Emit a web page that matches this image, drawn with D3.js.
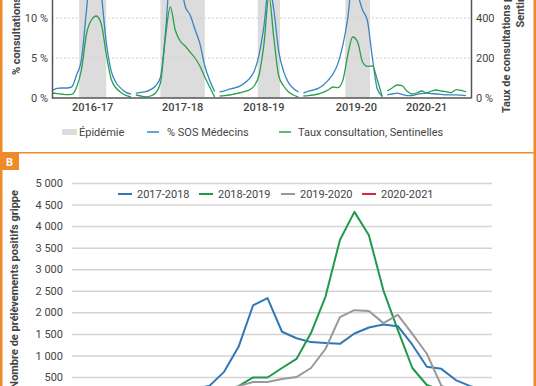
<!DOCTYPE html>
<html>
<head>
<meta charset="utf-8">
<script src="https://cdn.jsdelivr.net/npm/d3@7/dist/d3.min.js"></script>
<style>
body { margin: 0; background: #fff; }
svg { display: block; font-family: Roboto, "DejaVu Sans", sans-serif; }
</style>
</head>
<body>
<svg width="536" height="386"></svg>
<script>
// ---- panel A : SOS Médecins / Sentinelles, one segment per season
const seasons = ["2016-17", "2017-18", "2018-19", "2019-20", "2020-21"];
const seasonLabelWeek = [16.5, 19, 18, 21.5, 16];
const weeksA = [0, 2, 4, 6, 8, 10, 12, 14, 16, 18, 20, 22, 24, 26, 28, 30, 32];
// % of SOS Médecins consultations (left axis)
const sosMedecins = [
    [0.9, 1.2, 1.25, 1.25, 1.4, 2.9, 4.9, 11, 17, 17.5, 13, 7, 3.4, 1.9, 1.2, 0.7, 0.5],
    [0.6, 0.7, 0.8, 1.05, 1.5, 2.6, 8, 16, 18, 15, 11.5, 10.4, 8.6, 6.8, 4, 2.2, 0.8],
    [0.75, 0.9, 1.1, 1.25, 1.45, 1.85, 2.4, 3.3, 5.4, 9, 14, 11, 5.8, 3.3, 1.9, 1.2, 0.75],
    [0.6, 0.85, 1.0, 1.2, 1.6, 2.2, 3.0, 4.3, 6.6, 10, 15, 13, 11, 9.6, 5, 1.1, 0.25],
    [0.4, 0.5, 0.6, 0.45, 0.3, 0.3, 0.45, 0.55, 0.6, 0.55, 0.5, 0.45, 0.4, 0.4, 0.4, 0.35, 0.3]
];
// Sentinelles consultation rate (right axis)
const sentinelles = [
    [25, 22, 20, 17, 18, 55, 145, 320, 390, 410, 370, 220, 95, 50, 28, 13, 5],
    [15, 10, 6, 10, 25, 75, 300, 455, 340, 285, 260, 230, 200, 160, 105, 55, 5],
    [10, 12, 15, 20, 25, 32, 40, 60, 115, 270, 510, 300, 110, 60, 30, 15, 5],
    [10, 12, 15, 20, 28, 40, 55, 52, 88, 215, 305, 280, 180, 158, 160, 90, 5],
    [35, 50, 65, 62, 35, 20, 25, 35, 25, 35, 40, 35, 32, 27, 42, 38, 30]
];
// epidemic period, in season weeks (none in 2020-21)
const epiStart = [11, 10, 15.5, 17];
const epiEnd = [22, 28, 24.5, 27];
const leftTicks = [0, 5, 10];
const rightTicks = [0, 200, 400];

// ---- panel B : positive influenza samples per week
const weeksB = ["S40", "S41", "S42", "S43", "S44", "S45", "S46", "S47", "S48", "S49", "S50", "S51", "S52",
    "S01", "S02", "S03", "S04", "S05", "S06", "S07", "S08", "S09", "S10", "S11", "S12", "S13", "S14", "S15", "S16"];
const seasonsB = ["2017-2018", "2018-2019", "2019-2020", "2020-2021"];
const pos1718 = [20, 25, 30, 40, 55, 80, 110, 160, 220, 300, 620, 1200, 2160, 2330, 1550, 1400, 1310, 1290, 1270, 1510, 1650, 1720, 1680, 1250, 740, 690, 430, 290, 200];
const pos1819 = [10, 10, 15, 15, 20, 25, 30, 40, 60, 90, 150, 290, 490, 490, 710, 920, 1520, 2360, 3680, 4330, 3790, 2510, 1590, 710, 315, 200, 120, 80, 50];
const pos1920 = [5, 5, 10, 10, 15, 20, 30, 50, 80, 130, 200, 290, 385, 385, 455, 500, 710, 1150, 1890, 2050, 2030, 1750, 1940, 1500, 1040, 300, 150, 80, 50];
const pos2021 = [0, 0, 0, 1, 0, 2, 1, 0, 1, 3, 2, 1, 2, 0, 1, 1, 2, 1, 0, 1, 2, 1, 0, 1, 0, 1, 0, 0, 1];
const ticksB = [500, 1000, 1500, 2000, 2500, 3000, 3500, 4000, 4500, 5000];

const orange = "#ef8a2a";
const textColor = "#444";
const blueA = "#3a83c4", greenA = "#2a9f4d";
const colorsB = ["#2e78b8", "#1f9a4c", "#999999", "#d7263d"];

const svg = d3.select("svg");
svg.append("rect").attr("width", 536).attr("height", 386).attr("fill", "#fff");

function panelA() {
    const g = svg.append("g");
    const perSeason = 34;
    const x = d3.scaleLinear().domain([0, perSeason * seasons.length]).range([52, 471]);
    const xs = (s, w) => x(s * perSeason + w);
    const yL = d3.scaleLinear().domain([0, 20]).range([98, -62]);
    const yR = d3.scaleLinear().domain([0, 800]).range([98, -62]);

    g.selectAll("rect.epi").data(epiStart).enter().append("rect").attr("class", "epi")
        .attr("x", (d, i) => xs(i, d)).attr("width", (d, i) => xs(i, epiEnd[i]) - xs(i, d))
        .attr("y", yL(20)).attr("height", yL(0) - yL(20)).attr("fill", "#dcdcdc");

    g.selectAll("line.grid").data([5, 10]).enter().append("line").attr("class", "grid")
        .attr("x1", 52).attr("x2", 471).attr("y1", d => yL(d)).attr("y2", d => yL(d))
        .attr("stroke", "#cfcfcf").attr("stroke-dasharray", "2,2");

    const lineL = d3.line().x((d, i) => d[0]).y(d => yL(d[1])).curve(d3.curveMonotoneX);
    const lineR = d3.line().x((d, i) => d[0]).y(d => yR(d[1])).curve(d3.curveMonotoneX);
    seasons.forEach((s, si) => {
        g.append("path").datum(weeksA.map((w, i) => [xs(si, w), sosMedecins[si][i]]))
            .attr("d", lineL).attr("fill", "none").attr("stroke", blueA).attr("stroke-width", 1.3);
        g.append("path").datum(weeksA.map((w, i) => [xs(si, w), sentinelles[si][i]]))
            .attr("d", lineR).attr("fill", "none").attr("stroke", greenA).attr("stroke-width", 1.3);
    });

    // axes
    const gl = g.append("g").attr("transform", "translate(52,0)")
        .call(d3.axisLeft(yL).tickValues(leftTicks).tickSize(0).tickPadding(4).tickFormat(d => d + " %"));
    const gr = g.append("g").attr("transform", "translate(471,0)")
        .call(d3.axisRight(yR).tickValues(rightTicks).tickSize(0).tickPadding(5).tickFormat(d => d === 0 ? "0 %" : d));
    [gl, gr].forEach(a => {
        a.select(".domain").attr("stroke", "#555").attr("stroke-width", 1.5);
        a.selectAll("text").attr("font-size", 11).attr("fill", textColor).attr("font-family", "Roboto");
    });
    g.append("line").attr("x1", 52).attr("x2", 471).attr("y1", 98).attr("y2", 98)
        .attr("stroke", "#555").attr("stroke-width", 1.5);
    g.selectAll("text.season").data(seasons).enter().append("text").attr("class", "season")
        .attr("x", (d, i) => xs(i, seasonLabelWeek[i])).attr("y", 111).attr("text-anchor", "middle")
        .attr("font-size", 11).attr("font-weight", 500).attr("fill", textColor).text(d => d);

    g.append("text").attr("transform", "translate(20,75) rotate(-90)")
        .attr("font-size", 11).attr("font-weight", 700).attr("fill", textColor)
        .text("% consultations pour grippe");
    const rt = g.append("text").attr("transform", "translate(510,0) rotate(-90)")
        .attr("text-anchor", "middle").attr("font-size", 11).attr("font-weight", 700).attr("fill", textColor);
    rt.append("tspan").attr("x", 0).attr("dy", 0).text("Taux de consultations pour 100 000 habitants");
    rt.append("tspan").attr("x", 0).attr("dy", 14).text("Sentinelles");

    // legend
    const lg = g.append("g").attr("font-size", 11).attr("fill", textColor);
    lg.append("rect").attr("x", 62).attr("y", 129).attr("width", 15).attr("height", 6).attr("fill", "#dcdcdc");
    lg.append("text").attr("x", 79).attr("y", 136).text("Épidémie");
    lg.append("line").attr("x1", 147).attr("x2", 159).attr("y1", 132).attr("y2", 132).attr("stroke", blueA).attr("stroke-width", 1.5);
    lg.append("text").attr("x", 167).attr("y", 136).text("% SOS Médecins");
    lg.append("line").attr("x1", 279).attr("x2", 291).attr("y1", 132).attr("y2", 132).attr("stroke", greenA).attr("stroke-width", 1.5);
    lg.append("text").attr("x", 298).attr("y", 136).text("Taux consultation, Sentinelles");
}

function panelB() {
    const g = svg.append("g");
    const x = d3.scalePoint().domain(weeksB).range([72, 492]).padding(0.5);
    const y = d3.scaleLinear().domain([0, 5000]).range([398.6, 183]);
    const fmt = n => d3.format(",")(n).replace(/,/g, " ");

    g.append("g").attr("transform", "translate(72,0)")
        .call(d3.axisLeft(y).tickValues(ticksB).tickSize(-420).tickPadding(9).tickFormat(fmt))
        .call(a => a.select(".domain").remove())
        .call(a => a.selectAll(".tick line").attr("stroke", "#d4d4d4").attr("stroke-width", 1.5))
        .call(a => a.selectAll("text").attr("font-size", 11).attr("fill", textColor).attr("font-family", "Roboto"));

    const series = [pos1718, pos1819, pos1920, pos2021];
    const line = d3.line().x((d, i) => x(weeksB[i])).y(d => y(d));
    series.forEach((s, i) => {
        g.append("path").datum(s).attr("d", line).attr("fill", "none")
            .attr("stroke", colorsB[i]).attr("stroke-width", 2).attr("stroke-linejoin", "round");
    });

    g.append("text").attr("transform", "translate(18,190) rotate(-90)").attr("text-anchor", "end")
        .attr("font-size", 11).attr("font-weight", 700).attr("fill", textColor)
        .text("Nombre de prélèvements positifs grippe");

    // legend
    const legX = [118, 199, 281, 362];
    const lg = g.selectAll("g.leg").data(seasonsB).enter().append("g").attr("class", "leg")
        .attr("transform", (d, i) => `translate(${legX[i]},194)`);
    lg.append("line").attr("x1", 0).attr("x2", 14).attr("stroke", (d, i) => colorsB[i]).attr("stroke-width", 2);
    lg.append("text").attr("x", 19).attr("y", 4).attr("font-size", 11).attr("fill", textColor).text(d => d);
}

panelA();
panelB();

// orange frame
svg.append("rect").attr("x", 0).attr("y", 0).attr("width", 2.5).attr("height", 386).attr("fill", orange);
svg.append("rect").attr("x", 533.5).attr("y", 0).attr("width", 2.5).attr("height", 386).attr("fill", orange);
svg.append("rect").attr("x", 0).attr("y", 152).attr("width", 536).attr("height", 1.5).attr("fill", orange);
svg.append("rect").attr("x", 0).attr("y", 152).attr("width", 19).attr("height", 18).attr("fill", orange);
svg.append("text").attr("x", 9.5).attr("y", 165.5).attr("text-anchor", "middle").attr("font-size", 11)
    .attr("font-weight", 700).attr("fill", "#fff").text("B");
</script>
</body>
</html>
